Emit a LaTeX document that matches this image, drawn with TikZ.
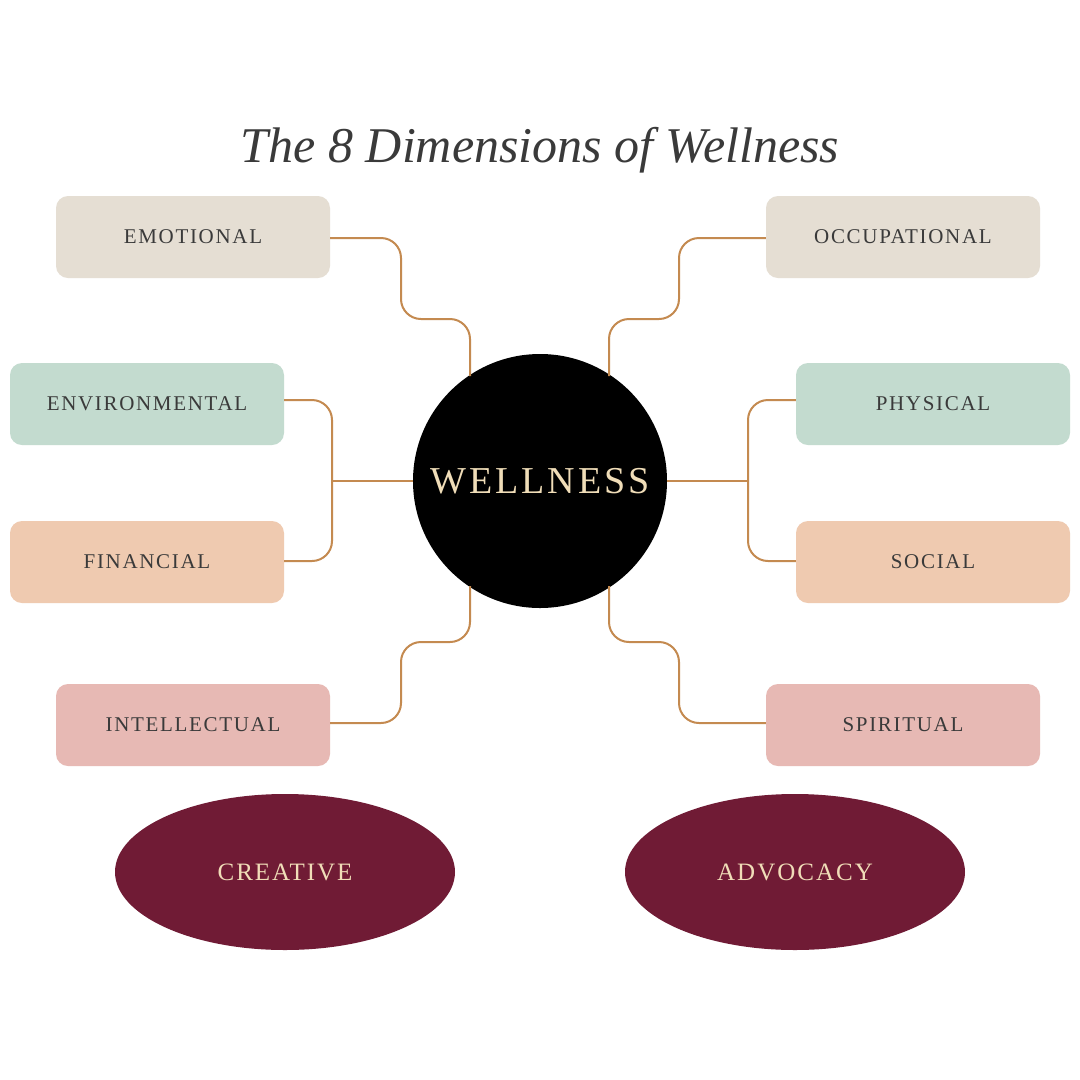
\documentclass[tikz,border=0pt]{standalone}
\usepackage{fontspec}
\setmainfont{Liberation Serif}
\newfontfamily\spaced[LetterSpace=8]{Liberation Serif}
\usetikzlibrary{shapes.geometric}
\definecolor{beige}{HTML}{E5DED3}
\definecolor{sage}{HTML}{C3DBCF}
\definecolor{peach}{HTML}{EFCAB0}
\definecolor{rose}{HTML}{E7B9B4}
\definecolor{wine}{HTML}{701B35}
\definecolor{cream}{HTML}{F0DDB8}
\definecolor{link}{HTML}{C48A50}
\definecolor{ink}{HTML}{3A3A3A}
\begin{document}
\begin{tikzpicture}[x=1pt,y=-1pt,
  box/.style={rounded corners=12pt,minimum width=274pt,minimum height=82pt,inner sep=0pt,font=\spaced\fontsize{21}{24}\selectfont,text=ink},
  oval/.style={ellipse,fill=wine,minimum width=340pt,minimum height=156pt,inner sep=0pt,text=cream,font=\spaced\fontsize{25}{28}\selectfont},
  conn/.style={draw=link,line width=2pt,rounded corners=20pt}]
\useasboundingbox (0,0) rectangle (1080,1080);
\fill[white] (0,0) rectangle (1080,1080);
\node[font=\itshape\fontsize{50}{56}\selectfont,text=ink] (title) at (540,150) {The 8 Dimensions of Wellness};
\node[circle,fill=black,minimum size=254pt,inner sep=0pt,text=cream,font=\spaced\fontsize{38}{42}\selectfont] (c) at (540,481) {WELLNESS};
\node[box,fill=beige] (emo) at (193,237) {EMOTIONAL};
\node[box,fill=beige] (occ) at (903,237) {OCCUPATIONAL};
\node[box,fill=sage] (env) at (147,404) {ENVIRONMENTAL};
\node[box,fill=sage] (phy) at (933,404) {PHYSICAL};
\node[box,fill=peach] (fin) at (147,562) {FINANCIAL};
\node[box,fill=peach] (soc) at (933,562) {SOCIAL};
\node[box,fill=rose] (int) at (193,725) {INTELLECTUAL};
\node[box,fill=rose] (spi) at (903,725) {SPIRITUAL};
\node[oval] (cre) at (285,872) {CREATIVE};
\node[oval] (adv) at (795,872) {ADVOCACY};
\coordinate (tl) at (470,376);
\coordinate (tr) at (609,376);
\coordinate (bl) at (470,586);
\coordinate (br) at (609,586);
\coordinate (lm) at (332,481);
\coordinate (rm) at (748,481);
\draw[conn] (emo.east |- 0,238) -- (401,238) -- (401,319) -- (470,319) -- (tl);
\draw[conn] (occ.west |- 0,238) -- (679,238) -- (679,319) -- (609,319) -- (tr);
\draw[conn] (int.east |- 0,723) -- (401,723) -- (401,642) -- (470,642) -- (bl);
\draw[conn] (spi.west |- 0,723) -- (679,723) -- (679,642) -- (609,642) -- (br);
\draw[conn] (env.east |- 0,400) -- (332,400) -- (332,561) -- (fin.east |- 0,561);
\draw[conn] (phy.west |- 0,400) -- (748,400) -- (748,561) -- (soc.west |- 0,561);
\draw[draw=link,line width=2pt] (lm) -- (c.west);
\draw[draw=link,line width=2pt] (rm) -- (c.east);
\end{tikzpicture}
\end{document}
